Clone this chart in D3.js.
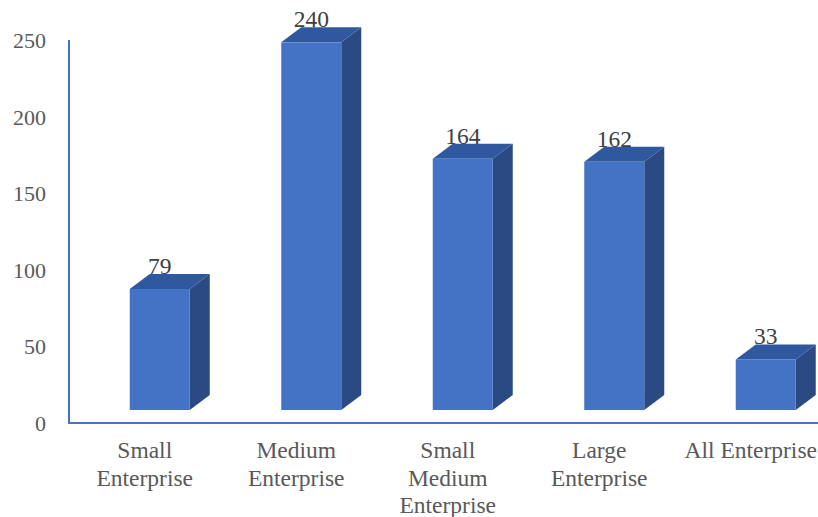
<!DOCTYPE html>
<html>
<head>
<meta charset="utf-8">
<script src="https://cdn.jsdelivr.net/npm/d3@7"></script>
<style>
  body { margin: 0; background: #fff; }
  svg { display: block; font-family: "Liberation Serif", "Times New Roman", serif; }
</style>
</head>
<body>
<svg id="chart" width="818" height="517"></svg>
<script>
const categories = ["Small Enterprise", "Medium Enterprise", "Small Medium Enterprise", "Large Enterprise", "All Enterprise"];
const labelLines = [["Small", "Enterprise"], ["Medium", "Enterprise"], ["Small", "Medium", "Enterprise"], ["Large", "Enterprise"], ["All Enterprise"]];
const values = [79, 240, 164, 162, 33];
const yTicks = [0, 50, 100, 150, 200, 250];

const svg = d3.select("#chart");
const x = d3.scaleBand().domain(categories).range([69, 826.5]);
const y = d3.scaleLinear().domain([0, 250]).range([423, 40]);

// fake 3d: front face lifted off the floor, depth going up-right
const lift = 13, depthX = 20, depthY = -15, barW = 60, shift = -15;

const bars = svg.append("g").attr("id", "bars");
values.forEach((v, i) => {
    const c = categories[i];
    const x0 = x(c) + x.bandwidth() / 2 + shift;
    const x1 = x0 + barW;
    const yb = y(0) - lift;
    const yt = y(v) - lift;
    const g = bars.append("g");
    // side
    g.append("path")
        .attr("d", `M${x1},${yt}L${x1 + depthX},${yt + depthY}L${x1 + depthX},${yb + depthY}L${x1},${yb}Z`)
        .attr("fill", "#2B4A84");
    // top
    g.append("path")
        .attr("d", `M${x0},${yt}L${x0 + depthX},${yt + depthY}L${x1 + depthX},${yt + depthY}L${x1},${yt}Z`)
        .attr("fill", "#30589E");
    // front
    g.append("rect")
        .attr("x", x0).attr("y", yt)
        .attr("width", barW).attr("height", yb - yt)
        .attr("fill", "#4472C4");
    // value label
    g.append("text")
        .attr("x", x0 + barW / 2)
        .attr("y", yt + depthY)
        .attr("text-anchor", "middle")
        .attr("font-size", 23.5)
        .attr("fill", "#404040")
        .text(v);
});

// axes lines
svg.append("line")
    .attr("x1", 69).attr("x2", 69)
    .attr("y1", y(250)).attr("y2", y(0))
    .attr("stroke", "#4472C4").attr("stroke-width", 2);
svg.append("line")
    .attr("x1", 68).attr("x2", 818)
    .attr("y1", y(0)).attr("y2", y(0))
    .attr("stroke", "#4472C4").attr("stroke-width", 2);

// y tick labels
svg.append("g").selectAll("text")
    .data(yTicks)
    .join("text")
    .attr("x", 46)
    .attr("y", d => y(d) + 8)
    .attr("text-anchor", "end")
    .attr("font-size", 22)
    .attr("fill", "#595959")
    .text(d => d);

// category labels
const cat = svg.append("g").selectAll("text")
    .data(categories)
    .join("text")
    .attr("x", d => x(d) + x.bandwidth() / 2)
    .attr("y", 458)
    .attr("text-anchor", "middle")
    .attr("font-size", 23.5)
    .attr("fill", "#595959");
cat.each(function (d, i) {
    d3.select(this).selectAll("tspan")
        .data(labelLines[i])
        .join("tspan")
        .attr("x", x(d) + x.bandwidth() / 2)
        .attr("dy", (t, j) => j === 0 ? 0 : 27.5)
        .text(t => t);
});
</script>
</body>
</html>
